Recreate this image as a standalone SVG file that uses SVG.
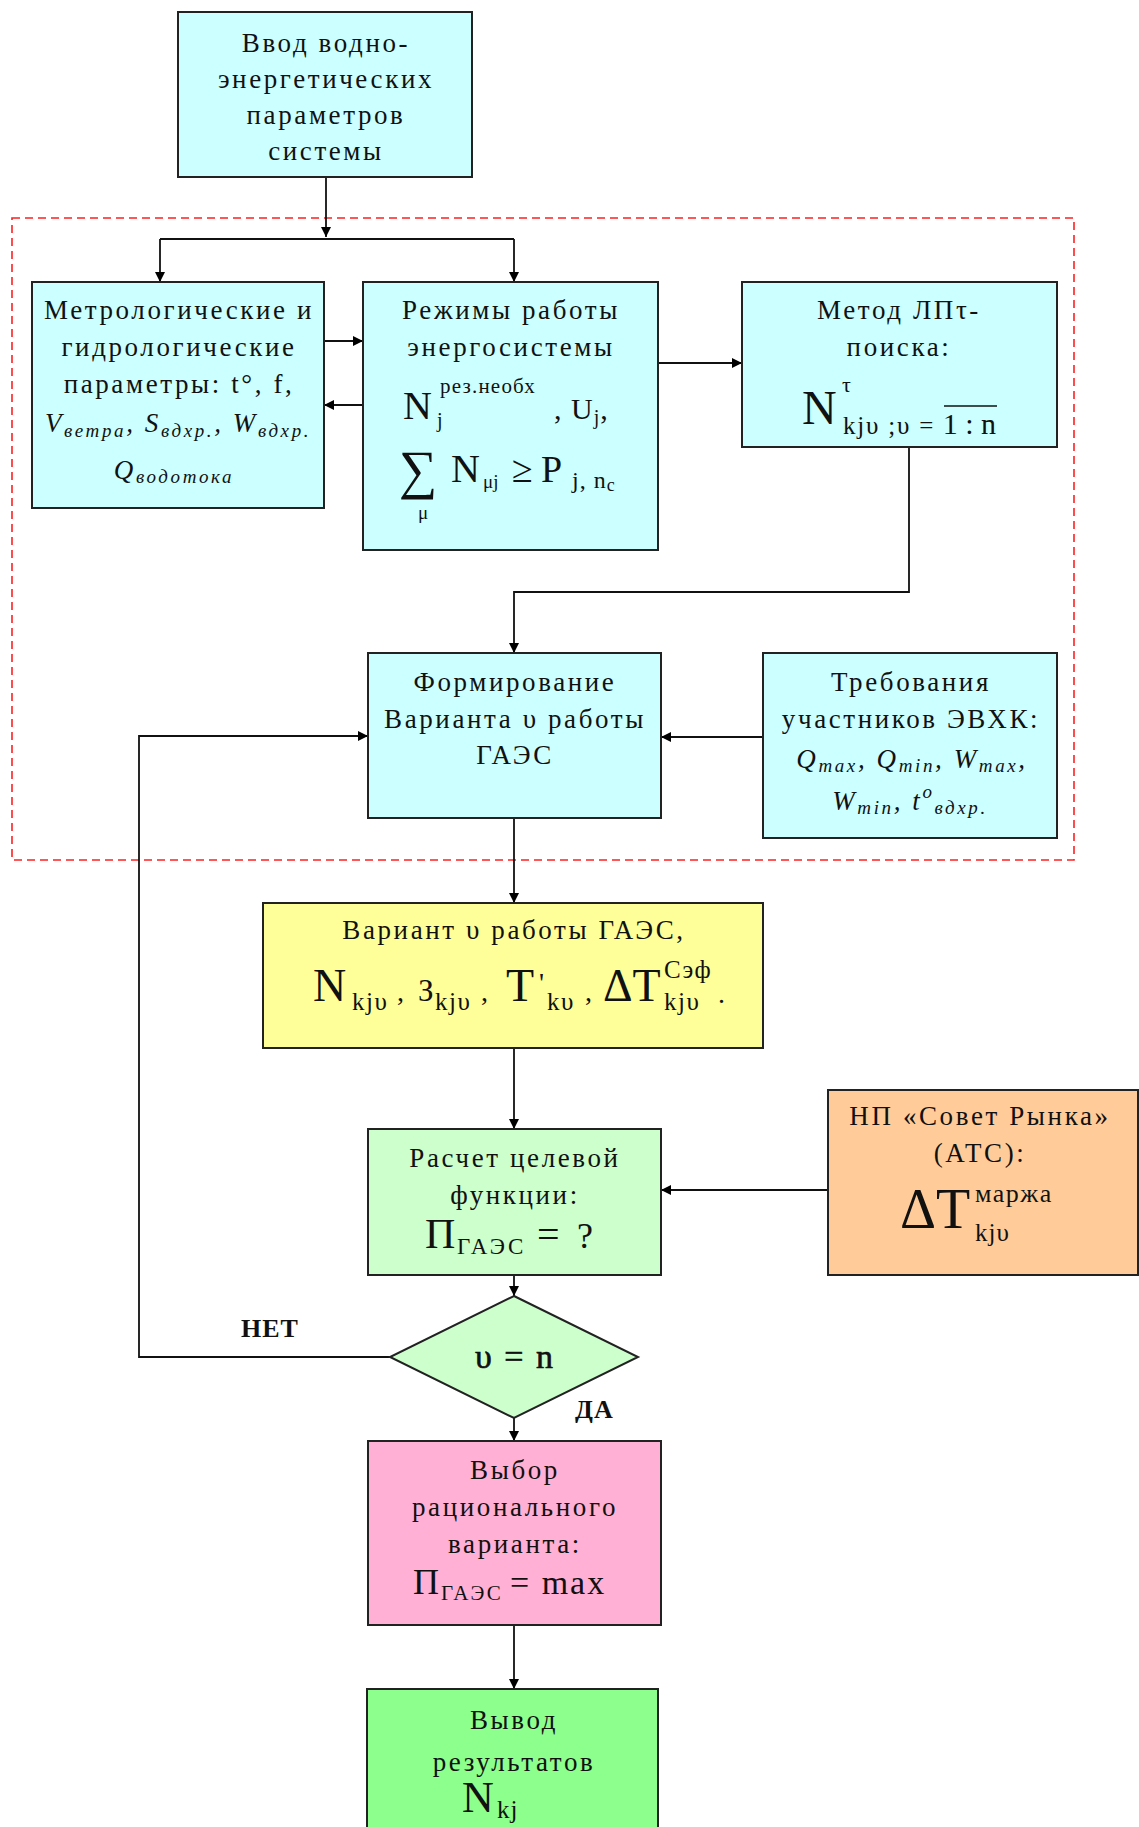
<svg xmlns="http://www.w3.org/2000/svg" width="1139" height="1827" viewBox="0 0 1139 1827">
<defs>
<marker id="ah" viewBox="0 0 10 10" refX="10" refY="5" markerWidth="10" markerHeight="10" markerUnits="userSpaceOnUse" orient="auto">
<path d="M0,0 L10,5 L0,10 z" fill="#000"/>
</marker>
<style>
.box{stroke:#222;stroke-width:2}
.cyan{fill:#CCFFFF}
.t{font-family:"Liberation Serif","Times New Roman",serif;font-size:27px;letter-spacing:2.6px;fill:#111;text-anchor:middle}
.i{font-style:italic;letter-spacing:2.6px}
.m{font-family:"Liberation Serif","Times New Roman",serif;fill:#111}
.s{letter-spacing:1.5px}
.c{fill:none;stroke:#111;stroke-width:1.8}
.lbl{font-family:"Liberation Serif","Times New Roman",serif;font-size:26px;font-weight:bold;letter-spacing:1px;fill:#111}
</style>
</defs>
<rect x="12" y="218" width="1062" height="642" fill="none" stroke="#FF2020" stroke-width="1.6" stroke-dasharray="8,5"/>
<g id="connectors">
<path class="c" d="M326,177 V237" marker-end="url(#ah)"/>
<path class="c" d="M160,239 H514"/>
<path class="c" d="M160,239 V282" marker-end="url(#ah)"/>
<path class="c" d="M514,239 V282" marker-end="url(#ah)"/>
<path class="c" d="M324,341 H363" marker-end="url(#ah)"/>
<path class="c" d="M363,405 H324" marker-end="url(#ah)"/>
<path class="c" d="M658,363 H742" marker-end="url(#ah)"/>
<path class="c" d="M909,447 V592 H514 V653" marker-end="url(#ah)"/>
<path class="c" d="M763,737 H661" marker-end="url(#ah)"/>
<path class="c" d="M514,818 V903" marker-end="url(#ah)"/>
<path class="c" d="M514,1048 V1129" marker-end="url(#ah)"/>
<path class="c" d="M828,1190 H661" marker-end="url(#ah)"/>
<path class="c" d="M514,1275 V1296" marker-end="url(#ah)"/>
<path class="c" d="M514,1418 V1441" marker-end="url(#ah)"/>
<path class="c" d="M390,1357 H139 V736 H368" marker-end="url(#ah)"/>
<path class="c" d="M514,1625 V1689" marker-end="url(#ah)"/>
<text class="lbl" x="241" y="1337">НЕТ</text>
<text class="lbl" x="575" y="1418">ДА</text>
</g>
<g id="n1">
<rect class="box cyan" x="178" y="12" width="294" height="165"/>
<text class="t" x="326" y="52">Ввод водно-</text>
<text class="t" x="326" y="88">энергетических</text>
<text class="t" x="326" y="124">параметров</text>
<text class="t" x="326" y="160">системы</text>
</g>
<g id="n2">
<rect class="box cyan" x="32" y="282" width="292" height="226"/>
<text class="t" x="179" y="319">Метрологические и</text>
<text class="t" x="179" y="356">гидрологические</text>
<text class="t" x="179" y="393">параметры: t°, f,</text>
<text class="t i" x="178" y="432" font-size="30">V<tspan font-size="19" dy="5">ветра</tspan><tspan dy="-5">, S</tspan><tspan font-size="19" dy="5">вдхр.</tspan><tspan dy="-5">, W</tspan><tspan font-size="19" dy="5">вдхр.</tspan></text>
<text class="t i" x="174" y="479" font-size="30">Q<tspan font-size="19" dy="4">водотока</tspan></text>
</g>
<g id="n3">
<rect class="box cyan" x="363" y="282" width="295" height="268"/>
<text class="t" x="511" y="319">Режимы работы</text>
<text class="t" x="511" y="356">энергосистемы</text>
<text class="m" x="403" y="419" font-size="40">N</text>
<text class="m" x="440" y="393" font-size="21" letter-spacing="1.2">рез.необх</text>
<text class="m" x="437" y="427" font-size="20">j</text>
<text class="m" x="554" y="419" font-size="30" letter-spacing="1">, U<tspan font-size="20" dy="5">j</tspan><tspan dy="-5">,</tspan></text>
<text class="m" x="399" y="488" font-size="54">∑</text>
<text class="m" x="418" y="519" font-size="19">μ</text>
<text class="m" x="451" y="482" font-size="40">N</text>
<text class="m" x="483" y="488" font-size="19">μj</text>
<text class="m" x="512" y="482" font-size="38">≥</text>
<text class="m" x="541" y="482" font-size="38">P</text>
<text class="m" x="572" y="488" font-size="24" letter-spacing="1">j, n<tspan font-size="18" dy="3">c</tspan></text>
</g>
<g id="n4">
<rect class="box cyan" x="742" y="282" width="315" height="165"/>
<text class="t" x="899" y="319">Метод ЛПτ-</text>
<text class="t" x="899" y="356">поиска:</text>
<text class="m" x="802" y="424" font-size="48">N</text>
<text class="m" x="842" y="392" font-size="22">τ</text>
<text class="m" x="843" y="434" font-size="25" letter-spacing="1.8">kjυ ;υ =</text>
<text class="m" x="996" y="434" font-size="30" text-anchor="end">1 : n</text>
<line x1="944" y1="406" x2="997" y2="406" stroke="#111" stroke-width="1.6"/>
</g>
<g id="n5">
<rect class="box cyan" x="368" y="653" width="293" height="165"/>
<text class="t" x="515" y="691">Формирование</text>
<text class="t" x="515" y="728">Варианта υ работы</text>
<text class="t" x="515" y="764">ГАЭС</text>
</g>
<g id="n6">
<rect class="box cyan" x="763" y="653" width="294" height="185"/>
<text class="t" x="911" y="691">Требования</text>
<text class="t" x="911" y="728">участников ЭВХК:</text>
<text class="t i" x="912" y="768" font-size="30">Q<tspan font-size="19" dy="4">max</tspan><tspan dy="-4">, Q</tspan><tspan font-size="19" dy="4">min</tspan><tspan dy="-4">, W</tspan><tspan font-size="19" dy="4">max</tspan><tspan dy="-4">,</tspan></text>
<text class="t i" x="910" y="810" font-size="30">W<tspan font-size="19" dy="4">min</tspan><tspan dy="-4">, t</tspan><tspan font-size="19" dy="-12">o</tspan><tspan font-size="19" dy="16">вдхр.</tspan></text>
</g>
<g id="n7">
<rect fill="#FFFF99" class="box" x="263" y="903" width="500" height="145"/>
<text class="t" x="514" y="939">Вариант υ работы ГАЭС,</text>
<text class="m" x="313" y="1001" font-size="46">N</text>
<text class="m s" x="352" y="1010" font-size="25">kjυ</text>
<text class="m" x="397" y="1001" font-size="28">,</text>
<text class="m" x="418" y="1001" font-size="31">З</text>
<text class="m s" x="435" y="1010" font-size="25">kjυ</text>
<text class="m" x="481" y="1001" font-size="28">,</text>
<text class="m" x="506" y="1001" font-size="46">T</text>
<text class="m" x="539" y="992" font-size="28">'</text>
<text class="m s" x="547" y="1010" font-size="25">kυ</text>
<text class="m" x="585" y="1001" font-size="28">,</text>
<text class="m" x="603" y="1001" font-size="46">ΔT</text>
<text class="m s" x="664" y="978" font-size="25">Сэф</text>
<text class="m s" x="664" y="1010" font-size="25">kjυ</text>
<text class="m" x="718" y="1003" font-size="28">.</text>
</g>
<g id="n8">
<rect fill="#CCFFCC" class="box" x="368" y="1129" width="293" height="146"/>
<text class="t" x="515" y="1167">Расчет целевой</text>
<text class="t" x="515" y="1204">функции:</text>
<text class="m" x="425" y="1248" font-size="42">П</text>
<text class="m" x="457" y="1254" font-size="23" letter-spacing="3">ГАЭС</text>
<text class="m" x="537" y="1248" font-size="40">=</text>
<text class="m" x="577" y="1248" font-size="36">?</text>
</g>
<g id="n9">
<rect fill="#FFCC99" class="box" x="828" y="1090" width="310" height="185"/>
<text class="t" x="980" y="1125">НП «Совет Рынка»</text>
<text class="t" x="980" y="1162">(АТС):</text>
<text class="m" x="900" y="1228" font-size="56">ΔT</text>
<text class="m" x="975" y="1202" font-size="26" letter-spacing="1.5">маржа</text>
<text class="m" x="975" y="1241" font-size="25" letter-spacing="1">kjυ</text>
</g>
<g id="n10">
<polygon fill="#CCFFCC" class="box" points="514,1296 638,1357 514,1418 390,1357"/>
<text class="m" x="515" y="1368" font-size="34" text-anchor="middle" letter-spacing="2" stroke="#111" stroke-width="0.6">υ = n</text>
</g>
<g id="n11">
<rect fill="#FFB0D4" class="box" x="368" y="1441" width="293" height="184"/>
<text class="t" x="515" y="1479">Выбор</text>
<text class="t" x="515" y="1516">рационального</text>
<text class="t" x="515" y="1553">варианта:</text>
<text class="m" x="413" y="1594" font-size="36">П</text>
<text class="m" x="441" y="1600" font-size="21" letter-spacing="2.5">ГАЭС</text>
<text class="m" x="510" y="1594" font-size="34" letter-spacing="2">= max</text>
</g>
<g id="n12">
<rect fill="#8CFF8C" class="box" x="367" y="1689" width="291" height="150"/>
<text class="t" x="514" y="1729">Вывод</text>
<text class="t" x="514" y="1771">результатов</text>
<text class="m" x="462" y="1812" font-size="44">N</text>
<text class="m" x="497" y="1818" font-size="25" letter-spacing="1">kj</text>
</g>
</svg>
